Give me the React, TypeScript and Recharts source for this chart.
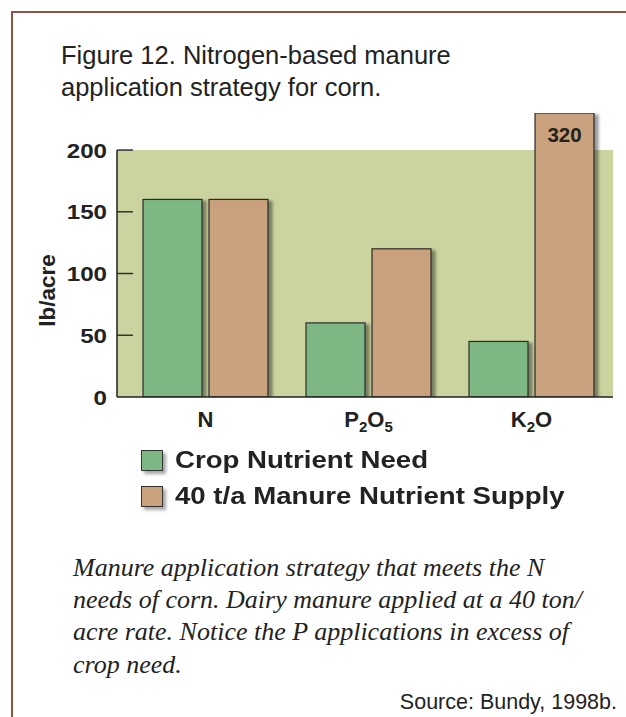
import React from 'react';
import { BarChart, Bar, XAxis, YAxis, ReferenceArea, LabelList } from 'recharts';

const nutrients = ['N', 'P2O5', 'K2O'];
const cropNeed = [160, 60, 45];
const manureSupply = [160, 120, 320];
const yTicks = [0, 50, 100, 150, 200];
const seriesNames = ['Crop Nutrient Need', '40 t/a Manure Nutrient Supply'];
const seriesColors = ['#7db784', '#c9a17b'];
const shadedTop = 200;
// the K2O supply bar is cut here and its real value written on it
const axisTop = 230;
const axisPad = 7;

const data = nutrients.map((n, i) => ({
  nutrient: n,
  need: cropNeed[i],
  supply: Math.min(manureSupply[i], axisTop),
  realSupply: manureSupply[i],
}));

const ShadowBar = (props: any) => {
  const { x, y, width, height, fill } = props;
  return (
    <rect x={x} y={y} width={width} height={height} fill={fill}
      stroke="#2b2b2b" strokeWidth={1.2} filter="url(#barShadow)" />
  );
};

const Backdrop = (props: any) => {
  const { x, y, width, height } = props;
  const left = x - axisPad;
  return (
    <g>
      <rect x={left} y={y} width={width + axisPad} height={height} fill="#cbd39e" />
      <line x1={left} x2={left} y1={y} y2={y + height} stroke="#222" strokeWidth={1.5} />
    </g>
  );
};

const YTick = ({ x, y, payload }: any) => (
  <g>
    {payload.value > 0 && <line x1={x} x2={x + 16} y1={y} y2={y} stroke="#333" strokeWidth={1.5} />}
    <text transform={`translate(${x - 10},${y + 7.5}) scale(1.15,1)`} textAnchor="end"
      fontSize={21} fontWeight="bold" fill="#222">{payload.value}</text>
  </g>
);

const XTick = ({ x, y, payload }: any) => {
  const parts = String(payload.value).split(/(\d)/).filter(Boolean);
  return (
    <text x={x} y={y + 30} textAnchor="middle" fontSize={22} fontWeight="bold" fill="#222">
      {parts.map((p, i) => {
        const isSub = /\d/.test(p);
        const prevSub = i > 0 && /\d/.test(parts[i - 1]);
        return (
          <tspan key={i} fontSize={isSub ? 15 : 22} dy={isSub ? 5 : prevSub ? -5 : 0}>{p}</tspan>
        );
      })}
    </text>
  );
};

const YLabel = ({ viewBox }: any) => (
  <text transform={`translate(${viewBox.x - 2},${viewBox.y + viewBox.height * 0.625}) rotate(-90)`}
    textAnchor="middle" fontSize={22.5} fontWeight="bold" fill="#222">lb/acre</text>
);

const CutLabel = (props: any) => {
  const { x, y, width, value } = props;
  if (value <= axisTop) return null;
  return (
    <text x={x + width / 2} y={y + 28.5} textAnchor="middle" fontSize={20.5} fontWeight="bold" fill="#222">
      {value}
    </text>
  );
};

export default function App() {
  return (
    <div style={{ position: 'absolute', left: 0, top: 0, width: 626, height: 717, background: '#fff',
      fontFamily: '"Liberation Sans", Arial, sans-serif', color: '#222', overflow: 'hidden' }}>
      <svg width={0} height={0} style={{ position: 'absolute' }}>
        <defs>
          <filter id="barShadow" x="-20%" y="-20%" width="150%" height="150%">
            <feDropShadow dx={4} dy={2} stdDeviation={1.8} floodColor="#000" floodOpacity={0.4} />
          </filter>
        </defs>
      </svg>
      <div style={{ position: 'absolute', left: 11, top: 11, right: 0, bottom: 0,
        borderTop: '2px solid #8b5446', borderLeft: '2px solid #8b5446' }} />
      <div style={{ position: 'absolute', left: 61, top: 38.5, fontSize: 25.5, lineHeight: '32px' }}>
        Figure 12. Nitrogen-based manure<br />application strategy for corn.
      </div>
      <div style={{ position: 'absolute', left: 0, top: 0 }}>
        <BarChart width={626} height={440} data={data} barGap={7} barSize={59}
          margin={{ top: 113, right: 13, bottom: 3, left: 57 }}>
          <ReferenceArea y1={0} y2={shadedTop} shape={Backdrop} ifOverflow="visible" />
          <XAxis dataKey="nutrient" height={40} padding={{ left: axisPad, right: 0 }}
            axisLine={{ stroke: '#222', strokeWidth: 1.5 }} tickLine={false}
            tickSize={0} tickMargin={0} tick={<XTick />} interval={0} />
          <YAxis type="number" domain={[0, axisTop]} ticks={yTicks} width={60}
            axisLine={false} tickLine={false} tickSize={0} tickMargin={0}
            tick={<YTick />} label={<YLabel />} allowDataOverflow />
          <Bar dataKey="need" name={seriesNames[0]} fill={seriesColors[0]}
            shape={<ShadowBar />} isAnimationActive={false} />
          <Bar dataKey="supply" name={seriesNames[1]} fill={seriesColors[1]}
            shape={<ShadowBar />} isAnimationActive={false}>
            <LabelList dataKey="realSupply" content={<CutLabel />} />
          </Bar>
        </BarChart>
      </div>
      {seriesNames.map((name, i) => (
        <div key={name} style={{ position: 'absolute', left: 0, top: 446.3 + i * 36 }}>
          <div style={{ position: 'absolute', left: 141, top: 4, width: 20, height: 19,
            background: seriesColors[i], border: '1.5px solid #333',
            boxShadow: '3px 3px 3px rgba(0,0,0,0.35)' }} />
          <div style={{ position: 'absolute', left: 175, top: 0, whiteSpace: 'nowrap',
            fontSize: 23, lineHeight: '28px', fontWeight: 'bold',
            transform: 'scaleX(1.2)', transformOrigin: 'left center' }}>{name}</div>
        </div>
      ))}
      <div style={{ position: 'absolute', left: 73, top: 551.8, fontSize: 26, lineHeight: '32.3px',
        fontFamily: '"Liberation Serif", "Times New Roman", serif', fontStyle: 'italic', whiteSpace: 'nowrap' }}>
        Manure application strategy that meets the N<br />
        needs of corn. Dairy manure applied at a 40 ton/<br />
        acre rate. Notice the P applications in excess of<br />
        crop need.
      </div>
      <div style={{ position: 'absolute', right: 9, top: 689.5, fontSize: 21.5, lineHeight: '24px',
        whiteSpace: 'nowrap' }}>
        Source: Bundy, 1998b.
      </div>
    </div>
  );
}
